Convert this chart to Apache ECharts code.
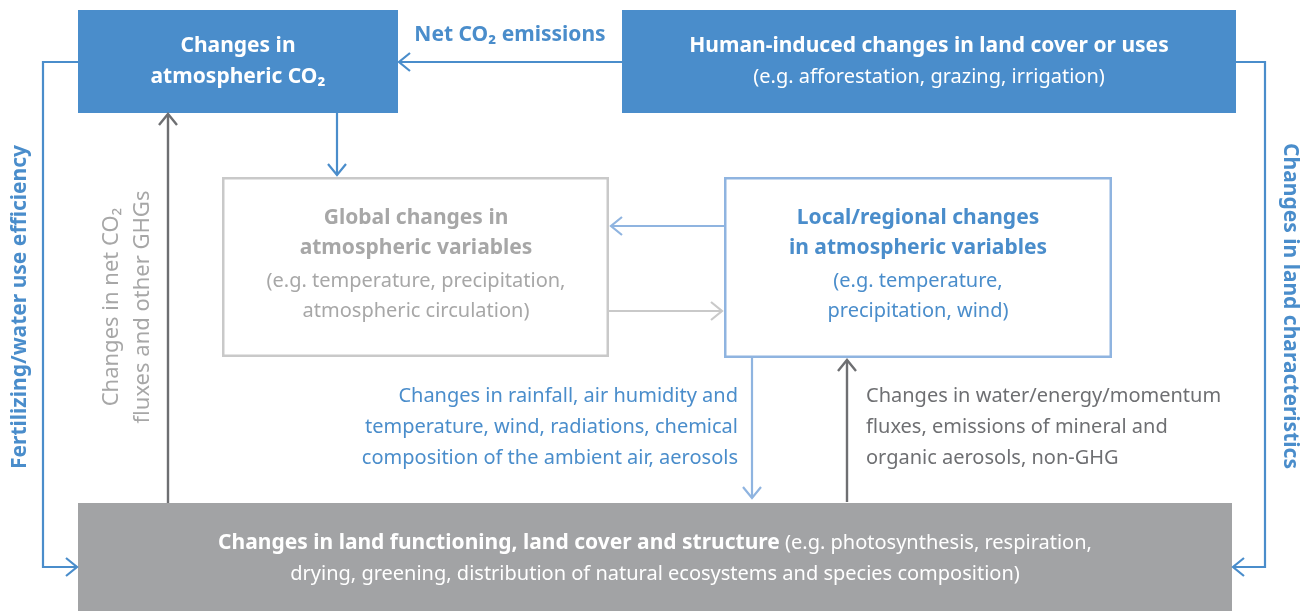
<!DOCTYPE html>
<html>
<head>
<meta charset="utf-8">
<script src="https://cdn.jsdelivr.net/npm/echarts@6/dist/echarts.min.js"></script>
<style>html,body{margin:0;padding:0;background:#fff}#c{width:1307px;height:611px}</style>
</head>
<body>
<div id="c"></div>
<script>
// ---- Diagram data (in a 1307 x 611 data space, y downwards) ----
// boxes: [x1, y1, x2, y2]
const boxes = [
  [78, 10, 398, 113],    // Changes in atmospheric CO2
  [622, 10, 1236, 113],  // Human-induced changes
  [222, 177, 609, 357],  // Global changes
  [724, 177, 1112, 358], // Local/regional changes
  [78, 503, 1232, 611]   // Changes in land functioning
];
const boxKinds = ['blue', 'blue', 'grayOutline', 'blueOutline', 'grayFill'];

// connectors: polylines, arrowhead at the last point
const connectors = [
  [[622, 62], [399, 62]],
  [[78, 62], [43, 62], [43, 567], [77, 567]],
  [[1236, 62], [1265, 62], [1265, 567], [1233, 567]],
  [[337, 113], [337, 175]],
  [[168, 503], [168, 114]],
  [[724, 226], [611, 226]],
  [[609, 311], [722, 311]],
  [[752, 358], [752, 498]],
  [[847, 502], [847, 360]]
];
const connectorKinds = ['blue', 'blue', 'blue', 'blue', 'dark', 'light', 'gray', 'light', 'dark'];

// texts
const labelTexts = [
  'Changes in', 'atmospheric CO₂',
  'Net CO₂ emissions',
  'Human-induced changes in land cover or uses', '(e.g. afforestation, grazing, irrigation)',
  'Global changes in', 'atmospheric variables',
  '(e.g. temperature, precipitation,', 'atmospheric circulation)',
  'Local/regional changes', 'in atmospheric variables',
  '(e.g. temperature,', 'precipitation, wind)',
  'Changes in rainfall, air humidity and', 'temperature, wind, radiations, chemical', 'composition of the ambient air, aerosols',
  'Changes in water/energy/momentum', 'fluxes, emissions of mineral and', 'organic aerosols, non-GHG',
  '{b|Changes in land functioning, land cover and structure} {r|(e.g. photosynthesis, respiration,}',
  'drying, greening, distribution of natural ecosystems and species composition)',
  'Fertilizing/water use efficiency',
  'Changes in land characteristics',
  'Changes in net CO₂', 'fluxes and other GHGs'
];
// anchors: [x, y]
const labelAnchors = [
  [238, 46], [238, 77],
  [510, 35],
  [929, 46], [929, 77],
  [416, 218], [416, 248],
  [416, 281], [416, 311],
  [918, 218], [918, 248],
  [918, 281], [918, 311],
  [738, 396], [738, 427], [738, 458],
  [866, 396], [866, 427], [866, 458],
  [655, 543], [655, 574],
  [20, 307],
  [1290, 306],
  [112, 307], [143, 307]
];
const labelKinds = [
  'whiteBold', 'whiteBold',
  'blueBold',
  'whiteBold', 'white',
  'grayBold', 'grayBold', 'gray', 'gray',
  'blueBold', 'blueBold', 'blue', 'blue',
  'blueR', 'blueR', 'blueR',
  'darkL', 'darkL', 'darkL',
  'bottomRich', 'white',
  'vBlueUp', 'vBlueDown', 'vGray', 'vGray'
];

// ---- styles ----
const FONT = "'Noto Sans', 'Open Sans', sans-serif";
const BLUE = '#4a8dcb', LBLUE = '#8fb4e0', LGRAY = '#c9c9c9', DGRAY = '#6e6f72', GTEXT = '#a7a7a7', BFILL = '#a2a3a5';
const boxStyle = {
  blue: { fill: BLUE, stroke: null, lineWidth: 0 },
  grayOutline: { fill: '#fff', stroke: LGRAY, lineWidth: 2.5 },
  blueOutline: { fill: '#fff', stroke: LBLUE, lineWidth: 2.5 },
  grayFill: { fill: BFILL, stroke: null, lineWidth: 0 }
};
const lineStyle = {
  blue: { stroke: BLUE, lineWidth: 2.2 },
  light: { stroke: LBLUE, lineWidth: 2.2 },
  gray: { stroke: LGRAY, lineWidth: 2.2 },
  dark: { stroke: DGRAY, lineWidth: 2.4 }
};
const textStyle = {
  whiteBold: { fill: '#fff', fontWeight: 'bold', fontSize: 21, align: 'center' },
  white: { fill: '#fff', fontWeight: 'normal', fontSize: 20, align: 'center' },
  blueBold: { fill: BLUE, fontWeight: 'bold', fontSize: 21, align: 'center' },
  grayBold: { fill: GTEXT, fontWeight: 'bold', fontSize: 21, align: 'center' },
  gray: { fill: GTEXT, fontWeight: 'normal', fontSize: 20, align: 'center' },
  blue: { fill: BLUE, fontWeight: 'normal', fontSize: 20, align: 'center' },
  blueR: { fill: BLUE, fontWeight: 'normal', fontSize: 20, align: 'right' },
  darkL: { fill: DGRAY, fontWeight: 'normal', fontSize: 20, align: 'left' },
  bottomRich: { fill: '#fff', fontWeight: 'normal', fontSize: 20, align: 'center' },
  vBlueUp: { fill: BLUE, fontWeight: 'bold', fontSize: 21, align: 'center', rotation: Math.PI / 2 },
  vBlueDown: { fill: BLUE, fontWeight: 'bold', fontSize: 21, align: 'center', rotation: -Math.PI / 2 },
  vGray: { fill: GTEXT, fontWeight: 'normal', fontSize: 22, align: 'center', rotation: Math.PI / 2 }
};

const chart = echarts.init(document.getElementById('c'), null, { renderer: 'canvas' });

function rectFrom(api, b) {
  const p1 = api.coord([b[0], b[1]]), p2 = api.coord([b[2], b[3]]);
  return { x: Math.min(p1[0], p2[0]), y: Math.min(p1[1], p2[1]), width: Math.abs(p2[0] - p1[0]), height: Math.abs(p2[1] - p1[1]) };
}

chart.setOption({
  animation: false,
  backgroundColor: '#fff',
  grid: { left: 0, right: 0, top: 0, bottom: 0, containLabel: false },
  xAxis: { type: 'value', min: 0, max: 1307, show: false },
  yAxis: { type: 'value', min: 0, max: 611, inverse: true, show: false },
  series: [
    {
      type: 'custom', name: 'boxes', silent: true, z: 1,
      data: boxes.map(b => [b[0], b[1], b[2], b[3]]),
      renderItem: (params, api) => {
        const b = boxes[params.dataIndex];
        const st = boxStyle[boxKinds[params.dataIndex]];
        const r = rectFrom(api, b);
        const inset = st.lineWidth ? st.lineWidth / 2 : 0;
        return {
          type: 'rect',
          shape: { x: r.x + inset, y: r.y + inset, width: r.width - 2 * inset, height: r.height - 2 * inset },
          style: { fill: st.fill, stroke: st.stroke, lineWidth: st.lineWidth }
        };
      }
    },
    {
      type: 'custom', name: 'connectors', silent: true, z: 2,
      data: connectors.map(c => c[c.length - 1]),
      renderItem: (params, api) => {
        const pts = connectors[params.dataIndex].map(p => api.coord(p));
        const st = lineStyle[connectorKinds[params.dataIndex]];
        const tip = pts[pts.length - 1], prev = pts[pts.length - 2];
        let dx = tip[0] - prev[0], dy = tip[1] - prev[1];
        const len = Math.sqrt(dx * dx + dy * dy) || 1;
        dx /= len; dy /= len;
        const bx = tip[0] - dx * 11, by = tip[1] - dy * 11;
        const px = -dy, py = dx;
        const head = [[bx + px * 9, by + py * 9], tip, [bx - px * 9, by - py * 9]];
        return {
          type: 'group',
          children: [
            { type: 'polyline', shape: { points: pts }, style: { stroke: st.stroke, lineWidth: st.lineWidth, fill: null, lineJoin: 'miter' } },
            { type: 'polyline', shape: { points: head }, style: { stroke: st.stroke, lineWidth: st.lineWidth, fill: null, lineJoin: 'miter' } }
          ]
        };
      }
    },
    {
      type: 'custom', name: 'labels', silent: true, z: 3,
      data: labelAnchors.map(a => [a[0], a[1]]),
      renderItem: (params, api) => {
        const i = params.dataIndex;
        const st = textStyle[labelKinds[i]];
        const p = api.coord(labelAnchors[i]);
        const style = {
          text: labelTexts[i], x: 0, y: 0,
          fill: st.fill, fontFamily: FONT, fontSize: st.fontSize, fontWeight: st.fontWeight,
          align: st.align, verticalAlign: 'middle'
        };
        if (labelKinds[i] === 'bottomRich') {
          style.rich = {
            b: { fill: '#fff', fontFamily: FONT, fontSize: 21, fontWeight: 'bold' },
            r: { fill: '#fff', fontFamily: FONT, fontSize: 20, fontWeight: 'normal' }
          };
        }
        return { type: 'text', x: p[0], y: p[1], rotation: st.rotation || 0, style };
      }
    }
  ]
});
</script>
</body>
</html>
